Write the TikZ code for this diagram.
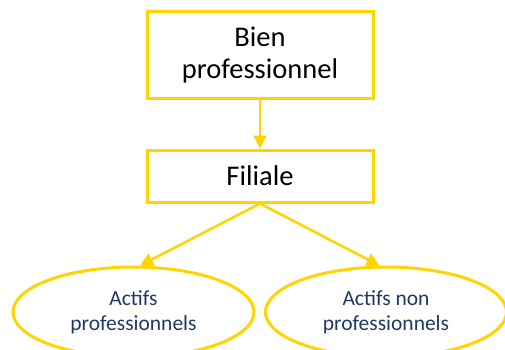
\documentclass[tikz,border=0pt]{standalone}
\usepackage{fontspec}
\setmainfont{Carlito}
\usetikzlibrary{shapes.geometric,arrows.meta}
\definecolor{gold}{RGB}{255,212,0}
\definecolor{darkblue}{RGB}{31,56,100}
\tikzset{
  boxnode/.style={draw=gold, line width=3pt, minimum width=226pt, inner sep=0pt, align=center, font=\fontsize{28.5}{32}\selectfont},
  ellnode/.style={ellipse, draw=gold, line width=3pt, minimum width=241pt, minimum height=90pt, inner sep=0pt, align=center, text=darkblue, font=\fontsize{21.5}{25}\selectfont},
  conn/.style={draw=gold, line width=2.5pt, -{Triangle[length=13pt,width=13pt]}}
}
\begin{document}
\begin{tikzpicture}[x=1pt,y=-1pt]
\useasboundingbox (0,0) rectangle (505,349);
\node[boxnode, minimum height=87pt] (bien) at (260,54.5) {Bien\\professionnel};
\node[boxnode, minimum height=52pt] (filiale) at (260,176) {Filiale};
\node[ellnode] (act1) at (133.5,312) {Actifs\\professionnels};
\node[ellnode] (act2) at (386,312) {Actifs non\\professionnels};
\draw[conn] (bien.south) -- (filiale.north);
\draw[conn] (filiale.south) -- (act1.82);
\draw[conn] (filiale.south) -- (act2.98);
\end{tikzpicture}
\end{document}
